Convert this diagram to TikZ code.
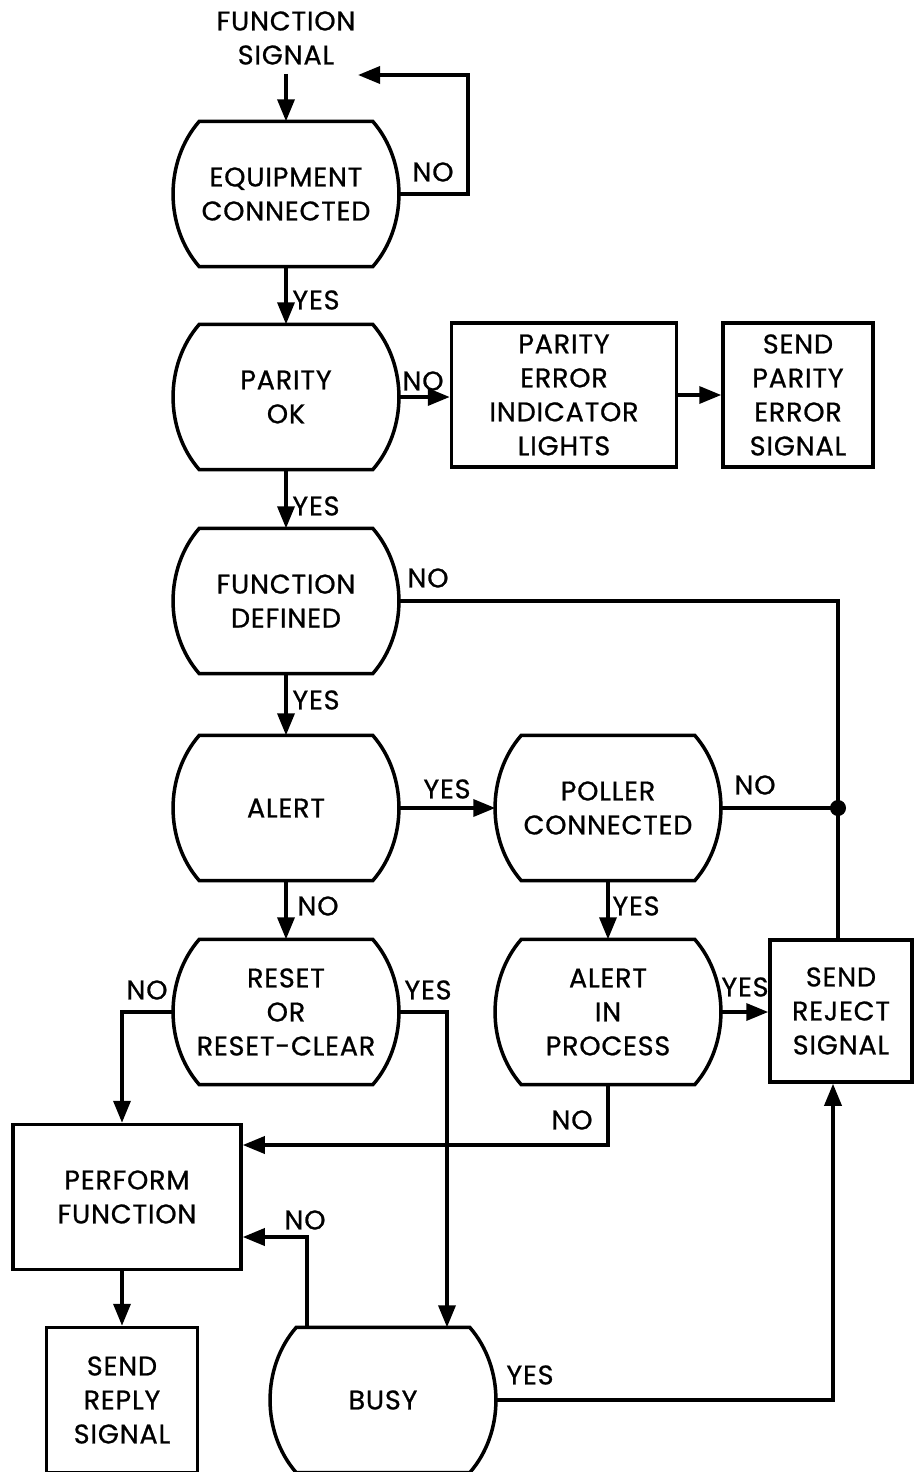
\documentclass[tikz,border=0pt]{standalone}
\usepackage{fontspec}
\newfontfamily\fcfont{Poppins}[LetterSpace=3,FakeBold=0.8]
\usetikzlibrary{arrows.meta,calc}
\tikzset{
  txt/.style={font=\fcfont\fontsize{27}{34}\selectfont, align=center, inner sep=0pt},
  line/.style={line width=3.5pt, line join=miter},
  arr/.style={line, -{Triangle[length=22pt,width=17pt]}},
  barrel/.style={txt, minimum width=225pt, minimum height=145pt},
  box/.style={txt, draw, line width=3.5pt, minimum height=144pt},
  lbl/.style={txt},
}
\newcommand\drawbarrel[1]{%
  \draw[line] ($(#1.north west)+(26,0)$) -- ($(#1.north east)+(-26,0)$)
    .. controls ($(#1.north east)+(9,40)$) and ($(#1.south east)+(9,-40)$) .. ($(#1.south east)+(-26,0)$)
    -- ($(#1.south west)+(26,0)$)
    .. controls ($(#1.south west)+(-9,-40)$) and ($(#1.north west)+(-9,40)$) .. cycle;}
\begin{document}
\begin{tikzpicture}[x=1pt,y=-1pt]
\useasboundingbox (0,0) rectangle (916,1472);
% nodes
\node[txt] (fs) at (286,38) {FUNCTION\\SIGNAL};
\node[barrel] (ec) at (286,194) {EQUIPMENT\\CONNECTED};
\node[barrel] (po) at (286,397) {PARITY\\OK};
\node[box, minimum width=225pt] (peil) at (564,395) {PARITY\\ERROR\\INDICATOR\\LIGHTS};
\node[box, minimum width=150pt] (spes) at (798,395) {SEND\\PARITY\\ERROR\\SIGNAL};
\node[barrel] (fd) at (286,601) {FUNCTION\\DEFINED};
\node[barrel] (al) at (286,808) {ALERT};
\node[barrel] (pc) at (608,808) {POLLER\\CONNECTED};
\node[barrel] (rs) at (286,1012) {RESET\\OR\\RESET-CLEAR};
\node[barrel] (aip) at (608,1012) {ALERT\\IN\\PROCESS};
\node[box, minimum width=142pt, minimum height=142pt] (srs) at (841,1011) {SEND\\REJECT\\SIGNAL};
\node[box, minimum width=228pt, minimum height=145pt] (pf) at (127,1197) {PERFORM\\FUNCTION};
\node[box, minimum width=151pt, minimum height=145pt] (srp) at (122,1400) {SEND\\REPLY\\SIGNAL};
\node[barrel] (busy) at (383,1400) {BUSY};
\foreach \n in {ec,po,fd,al,pc,rs,aip,busy} {\drawbarrel{\n}}
% coordinates
\coordinate (loopc) at (468,75);
\coordinate (loopend) at (358,75);
\coordinate (dot) at (838,808);
\fill (dot) circle (8pt);
% connectors
\draw[arr, shorten <=9pt] (fs.south) -- (ec.north);
\draw[arr] (ec.east) -| (loopc) -- (loopend);
\draw[arr] (ec) -- (po);
\draw[arr] (po.east) -- (po.east -| peil.west);
\draw[arr] (peil.east) -- (spes.west);
\draw[arr] (po) -- (fd);
\draw[line] (fd.east) -| (dot) -- (dot |- srs.north);
\draw[arr] (fd) -- (al);
\draw[arr] (al.east) -- (pc.west);
\draw[line] (pc.east) -- (dot);
\draw[arr] (al) -- (rs);
\draw[arr] (pc) -- (aip);
\draw[arr] (rs.west) -| (pf.north -| srp.north);
\draw[arr] (rs.east) -| ($(busy.north)+(64,0)$);
\draw[arr] (aip.east) -- (aip.east -| srs.west);
\draw[arr] (aip.south) |- ($(pf.east)+(0,-52)$);
\draw[arr] (pf.south -| srp.north) -- (srp.north);
\draw[arr] ($(busy.north)+(-76,0)$) |- ($(pf.east)+(0,40)$);
\draw[arr] (busy.east) -| ($(srs.south)+(-8,0)$);
% labels
\node[lbl] (l1) at (433,172) {NO};
\node[lbl] (l2) at (316,300) {YES};
\node[lbl] (l3) at (423,381) {NO};
\node[lbl] (l4) at (316,506) {YES};
\node[lbl] (l5) at (428,578) {NO};
\node[lbl] (l6) at (316,700) {YES};
\node[lbl] (l7) at (447,789) {YES};
\node[lbl] (l8) at (755,785) {NO};
\node[lbl] (l9) at (318,906) {NO};
\node[lbl] (l10) at (636,906) {YES};
\node[lbl] (l11) at (147,990) {NO};
\node[lbl] (l12) at (428,990) {YES};
\node[lbl] (l13) at (745,987) {YES};
\node[lbl] (l14) at (572,1120) {NO};
\node[lbl] (l15) at (305,1220) {NO};
\node[lbl] (l16) at (530,1375) {YES};
\end{tikzpicture}
\end{document}
